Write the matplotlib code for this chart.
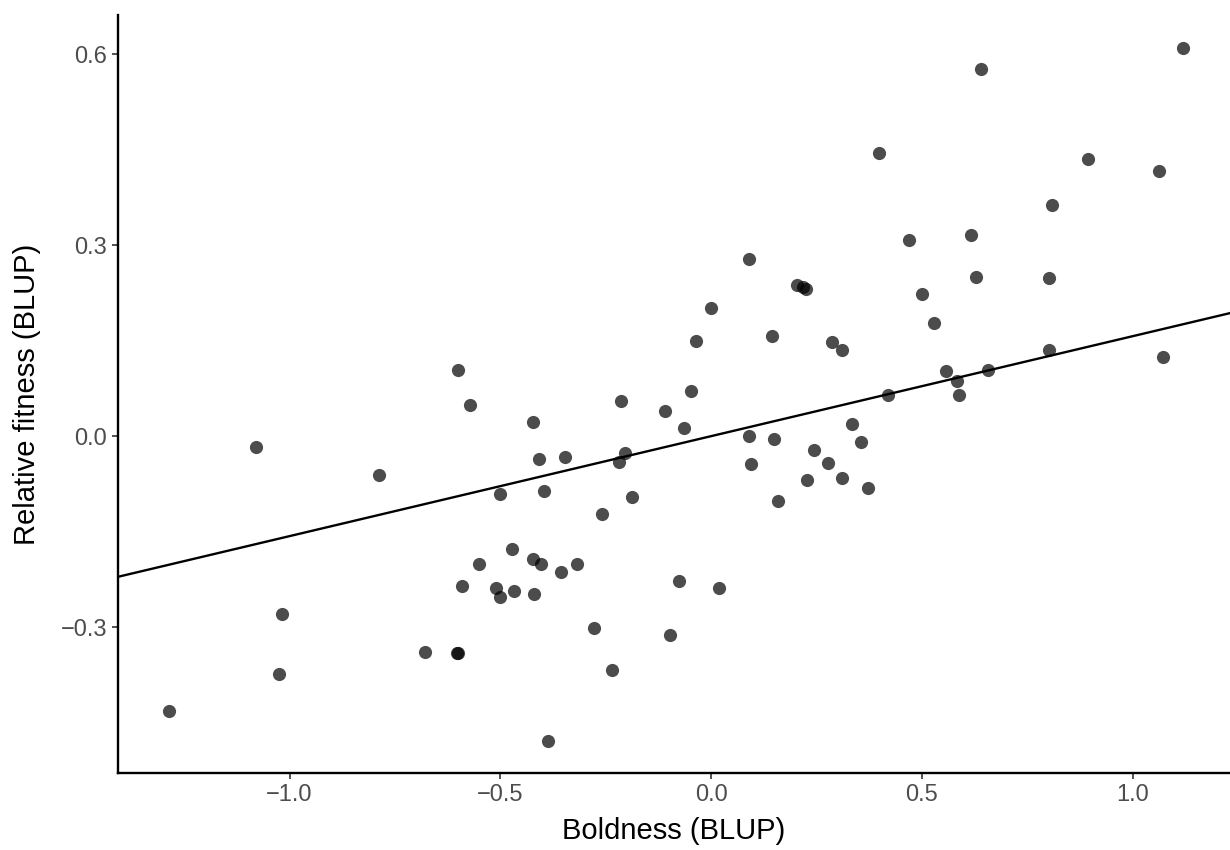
import matplotlib
matplotlib.use("Agg")
import matplotlib.pyplot as plt
import numpy as np

# Individual BLUPs: boldness (x) and relative fitness (y)
boldness = [
    -1.286, -1.079, -1.018, -1.025, -0.788, -0.679, -0.603, -0.601, -0.600, -0.590,
    -0.572, -0.550, -0.510, -0.501, -0.501, -0.472, -0.467, -0.422, -0.422, -0.420,
    -0.408, -0.403, -0.396, -0.387, -0.356, -0.346, -0.318, -0.278, -0.259, -0.235,
    -0.218, -0.214, -0.204, -0.187, -0.109, -0.097, -0.076, -0.064, -0.047, -0.036,
    0.000, 0.019, 0.090, 0.090, 0.095, 0.145, 0.150, 0.159, 0.204, 0.218,
    0.225, 0.228, 0.244, 0.278, 0.287, 0.311, 0.311, 0.335, 0.356, 0.372,
    0.399, 0.420, 0.470, 0.501, 0.529, 0.558, 0.584, 0.588, 0.617, 0.641,
    0.629, 0.657, 0.802, 0.802, 0.809, 0.894, 1.063, 1.072, 1.120,
]
fitness = [
    -0.432, -0.017, -0.280, -0.374, -0.061, -0.339, -0.341, -0.341, 0.104, -0.236,
    0.049, -0.201, -0.238, -0.253, -0.091, -0.177, -0.243, 0.022, -0.193, -0.248,
    -0.036, -0.201, -0.086, -0.479, -0.214, -0.033, -0.201, -0.302, -0.123, -0.368,
    -0.041, 0.055, -0.027, -0.096, 0.039, -0.313, -0.228, 0.013, 0.071, 0.149,
    0.201, -0.239, 0.278, 0.000, -0.044, 0.157, -0.005, -0.102, 0.237, 0.234,
    0.231, -0.069, -0.022, -0.042, 0.148, 0.135, -0.066, 0.019, -0.009, -0.082,
    0.444, 0.064, 0.308, 0.223, 0.177, 0.102, 0.086, 0.064, 0.316, 0.576,
    0.250, 0.104, 0.248, 0.135, 0.363, 0.435, 0.416, 0.124, 0.609,
]

# Selection gradient from the fitted model
intercept = 0.0
slope = 0.157

x_ticks = [-1.0, -0.5, 0.0, 0.5, 1.0]
y_ticks = [-0.3, 0.0, 0.3, 0.6]

plt.rcParams["font.family"] = ["Liberation Sans", "DejaVu Sans"]

fig = plt.figure(figsize=(12.3, 8.5), dpi=100)
ax = fig.add_axes([0.0959, 0.0906, 0.9041, 0.8914])

ax.scatter(boldness, fitness, s=90, color="black", alpha=0.7,
           linewidths=0, zorder=3)

x_lim = (-1.407, 1.231)
xs = np.array(x_lim)
ax.plot(xs, intercept + slope * xs, color="black", lw=1.7, zorder=4)

ax.set_xlim(*x_lim)
ax.set_ylim(-0.529, 0.661)

ax.set_xticks(x_ticks)
ax.set_xticklabels([f"{v:.1f}".replace("-", "\u2212") for v in x_ticks])
ax.set_yticks(y_ticks)
ax.set_yticklabels([f"{v:.1f}".replace("-", "\u2212") for v in y_ticks])

for side in ("top", "right"):
    ax.spines[side].set_visible(False)
for side in ("left", "bottom"):
    ax.spines[side].set_linewidth(1.7)
    ax.spines[side].set_color("black")

ax.tick_params(axis="both", direction="out", length=4, width=1.2,
               color="#333333", labelcolor="#4D4D4D", labelsize=17, pad=4)

ax.set_xlabel("Boldness (BLUP)", fontsize=21, labelpad=8)
ax.set_ylabel("Relative fitness (BLUP)", fontsize=21, labelpad=14)

fig.savefig("out.png", dpi=100, facecolor="white")
